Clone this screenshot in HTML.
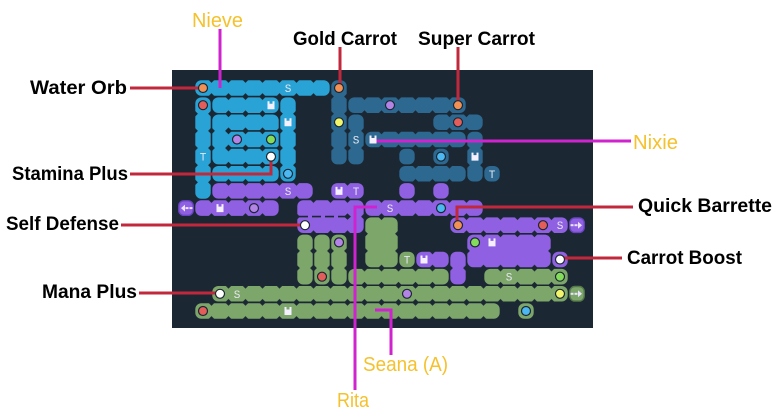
<!DOCTYPE html>
<html><head><meta charset="utf-8"><style>
html,body{margin:0;padding:0;background:#fff;width:780px;height:419px;overflow:hidden}
svg{display:block}
</style></head><body>
<svg width="780" height="419" viewBox="0 0 780 419" xmlns="http://www.w3.org/2000/svg">
<defs>
<pattern id="dm" patternUnits="userSpaceOnUse" x="203" y="88" width="17" height="17.15">
<polygon points="8.5,5.2 11.9,8.575 8.5,11.95 5.1,8.575" fill="#1b2833"/>
</pattern>
<g id="u"><path d="M-3.5,-4 h2 v2.5 h3 v-2.5 h2 v8 h-7 z" fill="#f4f0ff"/></g>
</defs>
<rect x="172" y="70" width="421" height="258" fill="#1b2833"/>

<!-- BLUE -->
<g fill="#29a3d6">
<rect x="195.3" y="80.2" width="134.4" height="15.55" rx="6"/>
<rect x="195.3" y="97.4" width="15.4" height="101.3" rx="6"/>
<rect x="212.3" y="97.4" width="66.4" height="15.55" rx="6"/>
<rect x="280.3" y="97.4" width="15.4" height="84.15" rx="6"/>
<rect x="212.3" y="114.5" width="66.4" height="49.85" rx="6"/>
<rect x="212.3" y="166.0" width="66.4" height="15.55" rx="6"/>
</g>
<!-- STEEL -->
<g fill="#2d6891">
<rect x="331.3" y="80.2" width="15.4" height="84.15" rx="6"/>
<rect x="348.3" y="97.4" width="117.4" height="15.55" rx="6"/>
<rect x="348.3" y="114.5" width="15.4" height="49.85" rx="6"/>
<rect x="433.3" y="114.5" width="49.4" height="15.55" rx="6"/>
<rect x="365.3" y="131.7" width="100.4" height="15.55" rx="6"/>
<rect x="467.3" y="131.7" width="15.4" height="49.85" rx="6"/>
<rect x="399.3" y="148.8" width="15.4" height="15.55" rx="6"/>
<rect x="433.3" y="148.8" width="15.4" height="15.55" rx="6"/>
<rect x="399.3" y="166.0" width="66.4" height="15.55" rx="6"/>
<rect x="484.3" y="166.0" width="15.4" height="15.55" rx="6"/>
</g>
<!-- PURPLE -->
<g fill="#8f60e2">
<rect x="212.3" y="183.1" width="100.4" height="15.55" rx="6"/>
<rect x="331.3" y="183.1" width="32.4" height="15.55" rx="6"/>
<rect x="399.3" y="183.1" width="15.4" height="15.55" rx="6"/>
<rect x="433.3" y="183.1" width="15.4" height="15.55" rx="6"/>
<rect x="195.3" y="200.3" width="83.4" height="15.55" rx="6"/>
<rect x="297.3" y="200.3" width="66.4" height="32.7" rx="6"/>
<rect x="365.3" y="200.3" width="117.4" height="15.55" rx="6"/>
<rect x="450.3" y="217.4" width="117.4" height="15.55" rx="6"/>
<rect x="467.3" y="234.6" width="83.4" height="32.7" rx="6"/>
<rect x="552.3" y="251.7" width="15.4" height="15.55" rx="6"/>
<rect x="416.3" y="251.7" width="32.4" height="15.55" rx="6"/>
<rect x="450.3" y="251.7" width="15.4" height="32.7" rx="6"/>
</g>
<g fill="#8f60e2" stroke="#6a44c4" stroke-width="1.4">
<rect x="178.8" y="200.8" width="14.4" height="14.55" rx="5"/>
<rect x="569.8" y="217.9" width="14.4" height="14.55" rx="5"/>
</g>
<!-- GREEN -->
<g fill="#7da66a">
<rect x="365.3" y="217.4" width="32.4" height="49.85" rx="6"/>
<rect x="399.3" y="251.7" width="15.4" height="15.55" rx="6"/>
<rect x="297.3" y="234.6" width="15.4" height="49.85" rx="6"/>
<rect x="314.3" y="234.6" width="15.4" height="49.85" rx="6"/>
<rect x="331.3" y="234.6" width="15.4" height="49.85" rx="6"/>
<rect x="348.3" y="268.9" width="100.4" height="15.55" rx="6"/>
<rect x="484.3" y="268.9" width="83.4" height="15.55" rx="6"/>
<rect x="212.3" y="286.0" width="355.4" height="15.55" rx="6"/>
<rect x="195.3" y="303.2" width="304.4" height="15.55" rx="6"/>
<rect x="518.3" y="303.2" width="15.4" height="15.55" rx="6"/>
</g>
<rect x="569.8" y="286.5" width="14.4" height="14.55" rx="5" fill="#7da66a" stroke="#55784a" stroke-width="1.4"/>

<!-- scallop diamonds -->
<rect x="172" y="70" width="421" height="258" fill="url(#dm)"/>

<!-- solid patches -->
<rect x="369.3" y="221.4" width="24.4" height="41.85" fill="#7da66a"/>
<rect x="471.3" y="238.6" width="75.4" height="24.7" fill="#8f60e2"/>
<rect x="301.3" y="204.3" width="58.4" height="24.7" fill="#8f60e2"/>

<!-- walls -->
<g stroke="#1b2833" stroke-width="1.6">
<line x1="229" y1="130.9" x2="279" y2="130.9"/>
<line x1="229" y1="148.0" x2="279" y2="148.0"/>
<line x1="299" y1="216.6" x2="346" y2="216.6" stroke-dasharray="9 4"/>
</g>
<polygon points="347.5,213.4 350.9,216.6 347.5,219.8 344.1,216.6" fill="#1b2833"/>

<!-- arrows -->
<g fill="#ece4ff">
<polygon points="181,208.1 185,204.6 185,211.6"/>
<rect x="185.5" y="207.1" width="3" height="2"/>
<rect x="189.5" y="207.1" width="3" height="2"/>
<polygon points="582,225.2 578,221.7 578,228.7"/>
<rect x="570.5" y="224.2" width="3" height="2"/>
<rect x="574.5" y="224.2" width="3" height="2"/>
<polygon points="582,293.8 578,290.3 578,297.3"/>
<rect x="570.5" y="292.8" width="3" height="2"/>
<rect x="574.5" y="292.8" width="3" height="2"/>
</g>

<!-- leader lines -->
<g fill="none" stroke="#c1283b" stroke-width="3">
<path d="M130,88 H203"/>
<path d="M340,47 V88"/>
<path d="M458,47 V105"/>
<path d="M130,174 H271 V156"/>
<path d="M121,225 H305"/>
<path d="M633,207 H457 V225"/>
<path d="M560,258 H622"/>
<path d="M139,293 H220"/>
</g>
<g fill="none" stroke="#cf23cf" stroke-width="3">
<path d="M220,29 V88"/>
<path d="M373,141 H631"/>
<path d="M355,390 V207 H377"/>
<path d="M391,355 V310 H375"/>
</g>

<!-- dots -->
<g stroke="#1b2833" stroke-width="1.2">
<g fill="#f39155">
<circle cx="203" cy="88" r="4.5"/><circle cx="339" cy="88" r="4.5"/><circle cx="458" cy="105.2" r="4.5"/><circle cx="458" cy="225.2" r="4.5"/>
</g>
<g fill="#e35d5b">
<circle cx="203" cy="105.2" r="4.5"/><circle cx="458" cy="122.3" r="4.5"/><circle cx="543" cy="225.2" r="4.5"/><circle cx="322" cy="276.7" r="4.5"/><circle cx="203" cy="311" r="4.5"/>
</g>
<g fill="#b483e6">
<circle cx="237" cy="139.5" r="4.5"/><circle cx="390" cy="105.2" r="4.5"/><circle cx="254" cy="208.1" r="4.5"/><circle cx="339" cy="242.4" r="4.5"/><circle cx="407" cy="293.8" r="4.5"/>
</g>
<g fill="#84dd5a">
<circle cx="271" cy="139.5" r="4.5"/><circle cx="475" cy="242.4" r="4.5"/><circle cx="560" cy="276.7" r="4.5"/>
</g>
<g fill="#f2f56a">
<circle cx="339" cy="122.3" r="4.5"/><circle cx="560" cy="293.8" r="4.5"/>
</g>
<g fill="#4cb8f2">
<circle cx="288" cy="173.8" r="4.5"/><circle cx="441" cy="156.6" r="4.5"/><circle cx="441" cy="208.1" r="4.5"/><circle cx="526" cy="311" r="4.5"/>
</g>
<g fill="#ffffff">
<circle cx="271" cy="156.6" r="4.5"/><circle cx="305" cy="225.2" r="4.5"/><circle cx="560" cy="259.5" r="4.5"/><circle cx="220" cy="293.8" r="4.5"/>
</g>
</g>

<!-- U icons -->
<use href="#u" x="271" y="105.2"/>
<use href="#u" x="288" y="122.3"/>
<use href="#u" x="373" y="139.5"/>
<use href="#u" x="475" y="156.6"/>
<use href="#u" x="339" y="190.9"/>
<use href="#u" x="220" y="208.1"/>
<use href="#u" x="424" y="259.5"/>
<use href="#u" x="492" y="242.4"/>
<use href="#u" x="288" y="311"/>

<!-- S / T -->
<g font-family="'Liberation Mono', monospace" font-size="11" fill="#e6e6f0" text-anchor="middle">
<text x="288" y="92">S</text>
<text x="356" y="143.5">S</text>
<text x="288" y="194.9">S</text>
<text x="390" y="212.1">S</text>
<text x="560" y="229.2">S</text>
<text x="509" y="280.7">S</text>
<text x="237" y="297.8">S</text>
<text x="203" y="160.6">T</text>
<text x="492" y="177.8">T</text>
<text x="356" y="194.9">T</text>
<text x="407" y="263.5">T</text>
</g>

<!-- labels -->
<g font-family="'Liberation Sans', sans-serif" font-size="19" font-weight="bold" fill="#000">
<text x="293" y="45" textLength="104" lengthAdjust="spacingAndGlyphs">Gold Carrot</text>
<text x="418" y="45" textLength="117" lengthAdjust="spacingAndGlyphs">Super Carrot</text>
<text x="30" y="94" textLength="97" lengthAdjust="spacingAndGlyphs">Water Orb</text>
<text x="12" y="180" textLength="116" lengthAdjust="spacingAndGlyphs">Stamina Plus</text>
<text x="6" y="230" textLength="113" lengthAdjust="spacingAndGlyphs">Self Defense</text>
<text x="638" y="212" textLength="134" lengthAdjust="spacingAndGlyphs">Quick Barrette</text>
<text x="627" y="264" textLength="115" lengthAdjust="spacingAndGlyphs">Carrot Boost</text>
<text x="42" y="298" textLength="95" lengthAdjust="spacingAndGlyphs">Mana Plus</text>
</g>
<g font-family="'Liberation Sans', sans-serif" font-size="20" fill="#f5c12c">
<text x="192" y="27" textLength="51" lengthAdjust="spacingAndGlyphs">Nieve</text>
<text x="633" y="149" textLength="45" lengthAdjust="spacingAndGlyphs">Nixie</text>
<text x="363" y="371" textLength="85" lengthAdjust="spacingAndGlyphs">Seana (A)</text>
<text x="337" y="407" textLength="32" lengthAdjust="spacingAndGlyphs">Rita</text>
</g>
</svg>
</body></html>
